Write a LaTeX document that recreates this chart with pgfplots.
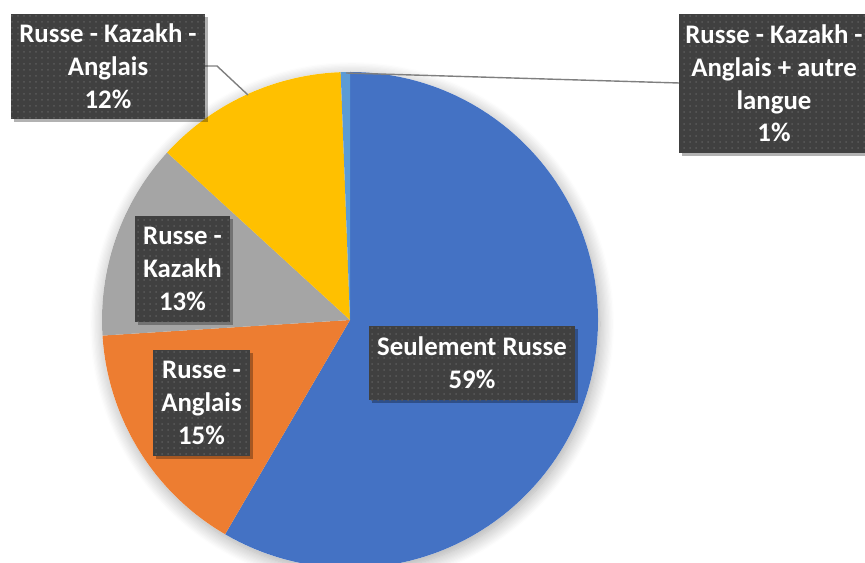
\documentclass[border=0pt]{standalone}
\usepackage{pgfplots}
\pgfplotsset{compat=1.18}
\usepackage{pgfplotstable}
\usepackage{fontspec}
\setmainfont{Carlito}
\usetikzlibrary{patterns,shadows,shadows.blur}

\definecolor{cRusse}{HTML}{4472C4}
\definecolor{cRusAng}{HTML}{ED7D31}
\definecolor{cRusKaz}{HTML}{A5A5A5}
\definecolor{cRKA}{HTML}{FFC000}
\definecolor{cRKAplus}{HTML}{5B9BD5}
\definecolor{boxgrey}{HTML}{404040}
\definecolor{dotgrey}{HTML}{5A5A5A}
\definecolor{leadgrey}{HTML}{7F7F7F}

% parts of the pie, clockwise from 12 o'clock (percent)
\pgfplotstableread{
part
58.4
15.6
12.8
12.6
0.6
}\pietable

\def\angA{90}
\pgfplotstablegetelem{0}{part}\of\pietable \pgfmathsetmacro\angB{\angA-3.6*\pgfplotsretval}
\pgfplotstablegetelem{1}{part}\of\pietable \pgfmathsetmacro\angC{\angB-3.6*\pgfplotsretval}
\pgfplotstablegetelem{2}{part}\of\pietable \pgfmathsetmacro\angD{\angC-3.6*\pgfplotsretval}
\pgfplotstablegetelem{3}{part}\of\pietable \pgfmathsetmacro\angE{\angD-3.6*\pgfplotsretval}
\pgfplotstablegetelem{4}{part}\of\pietable \pgfmathsetmacro\angF{\angE-3.6*\pgfplotsretval}

\def\R{124pt}

\tikzset{
  lbl/.style={fill=boxgrey, postaction={pattern=dots, pattern color=dotgrey},
    text=white, font=\bfseries\fontsize{13.4}{16.4}\selectfont, align=center,
    inner sep=0pt,
    drop shadow={shadow xshift=1.6pt, shadow yshift=-1.6pt, opacity=0.3, fill=black}},
  leader/.style={draw=leadgrey, line width=0.7pt},
  slice/.style={line width=0pt},
}

\begin{document}
\begin{tikzpicture}
\begin{axis}[
  name=ax, scale only axis,
  width=432.5pt, height=281pt,
  xmin=0, xmax=865, ymin=-562, ymax=0,
  axis lines=none, clip=false,
]
% soft shadow under the pie
\fill[white, blur shadow={shadow xshift=1pt, shadow yshift=-2pt,
  shadow blur radius=7pt, shadow opacity=35, shadow blur steps=12}]
  (axis cs:350,-320) circle[radius=\R];

\fill[cRusse]   (axis cs:350,-320) -- ++(\angA:\R) arc[start angle=\angA, end angle=\angB, radius=\R] -- cycle;
\fill[cRusAng]  (axis cs:350,-320) -- ++(\angB:\R) arc[start angle=\angB, end angle=\angC, radius=\R] -- cycle;
\fill[cRusKaz]  (axis cs:350,-320) -- ++(\angC:\R) arc[start angle=\angC, end angle=\angD, radius=\R] -- cycle;
\fill[cRKA]     (axis cs:350,-320) -- ++(\angD:\R) arc[start angle=\angD, end angle=\angE, radius=\R] -- cycle;
\fill[cRKAplus] (axis cs:350,-320) -- ++(\angE:\R) arc[start angle=\angE, end angle=\angF, radius=\R] -- cycle;

% leader lines of the two outer labels
\draw[leader] (axis cs:205,-66) -- (axis cs:217,-66) -- (axis cs:248,-95);
\draw[leader] (axis cs:346,-73) -- (axis cs:679,-83);

\node[lbl, minimum width=103pt, minimum height=37pt] at (axis cs:472,-363)
  {Seulement Russe\\59\%};
\node[lbl, minimum width=48.5pt, minimum height=53pt] at (axis cs:201.5,-403)
  {Russe -\\Anglais\\15\%};
\node[lbl, minimum width=47.5pt, minimum height=53pt] at (axis cs:182.5,-269)
  {Russe -\\Kazakh\\13\%};
\node[lbl, minimum width=97pt, minimum height=52.5pt] at (axis cs:108,-66.5)
  {Russe - Kazakh -\\Anglais\\12\%};
\node[lbl, minimum width=95pt, minimum height=69.5pt] at (axis cs:774,-83.5)
  {Russe - Kazakh -\\Anglais + autre\\langue\\1\%};
\end{axis}
\pgfresetboundingbox
\path[use as bounding box] (ax.south west) rectangle (ax.north east);
\end{tikzpicture}
\end{document}
